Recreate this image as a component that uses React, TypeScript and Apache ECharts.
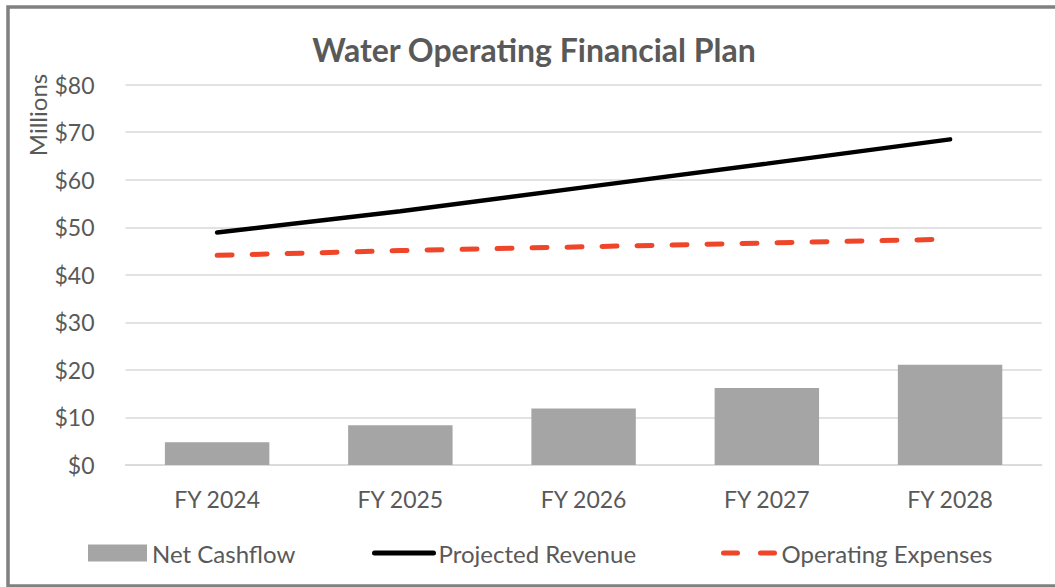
import React, { useEffect, useRef } from "react";
import * as echarts from "echarts";

const categories = ["FY 2024", "FY 2025", "FY 2026", "FY 2027", "FY 2028"];
const netCashflow = [4.8, 8.35, 11.9, 16.2, 21.1];
const projectedRevenue = [48.9, 53.4, 58.4, 63.4, 68.5];
const operatingExpenses = [44.1, 45.1, 45.9, 46.7, 47.5];
const seriesNames = ["Net Cashflow", "Projected Revenue", "Operating Expenses"];
const yMin = 0;
const yMax = 80;
const yInterval = 10;

const FONT = "Lato";
const TEXT = "#595959";

export default function App() {
  const ref = useRef<HTMLDivElement>(null);
  useEffect(() => {
    if (!ref.current) return;
    const chart = echarts.init(ref.current, null, { renderer: "svg" });
    const legendText = { color: TEXT, fontFamily: FONT, fontSize: 24 };
    chart.setOption({
      animation: false,
      backgroundColor: "#ffffff",
      title: {
        text: "Water Operating Financial Plan",
        left: 529,
        textAlign: "center",
        top: 28,
        textStyle: { color: TEXT, fontFamily: FONT, fontSize: 32, fontWeight: "bold" },
      },
      graphic: [
        {
          type: "rect",
          shape: { x: 8, y: 7, width: 1100, height: 579 },
          style: { fill: "none", stroke: "#808080", lineWidth: 3.5 },
          silent: true,
        },
        {
          type: "text",
          x: 37,
          y: 115,
          rotation: Math.PI / 2,
          style: {
            text: "Millions",
            fill: TEXT,
            font: `24px ${FONT}`,
            align: "center",
            verticalAlign: "middle",
          },
        },
      ],
      legend: [
        {
          data: [{ name: seriesNames[0], icon: "rect" }],
          left: 88,
          top: 541,
          padding: 0,
          itemWidth: 59,
          itemHeight: 17,
          textStyle: legendText,
        },
        {
          data: [{ name: seriesNames[1], itemStyle: { opacity: 0 } }],
          left: 372,
          top: 541,
          padding: 0,
          itemWidth: 59,
          itemHeight: 17,
          lineStyle: { width: 5, cap: "round" },
          textStyle: legendText,
        },
        {
          data: [{ name: seriesNames[2], itemStyle: { opacity: 0 } }],
          left: 721,
          top: 541,
          padding: 0,
          itemWidth: 53,
          itemHeight: 17,
          lineStyle: { width: 5, type: [14, 23], cap: "round" },
          textStyle: legendText,
        },
      ],
      grid: { left: 125.5, right: 13.3, top: 84.7, bottom: 122, containLabel: false },
      xAxis: {
        type: "category",
        data: categories,
        axisLine: { lineStyle: { color: "#D9D9D9", width: 1.5 } },
        axisTick: { show: false },
        axisLabel: { color: TEXT, fontFamily: FONT, fontSize: 23, margin: 22 },
      },
      yAxis: {
        type: "value",
        min: yMin,
        max: yMax,
        interval: yInterval,
        axisLine: { show: false },
        axisTick: { show: false },
        splitLine: { lineStyle: { color: "#D9D9D9", width: 1.5 } },
        axisLabel: {
          color: TEXT,
          fontFamily: FONT,
          fontSize: 23,
          margin: 31,
          formatter: (v: number) => "$" + v,
        },
      },
      series: [
        {
          name: seriesNames[0],
          type: "bar",
          data: netCashflow,
          barWidth: "57%",
          itemStyle: { color: "#A5A5A5" },
        },
        {
          name: seriesNames[1],
          type: "line",
          data: projectedRevenue,
          symbol: "none",
          lineStyle: { color: "#000000", width: 4.5, cap: "round" },
          itemStyle: { color: "#000000" },
          z: 3,
        },
        {
          name: seriesNames[2],
          type: "line",
          data: operatingExpenses,
          symbol: "none",
          lineStyle: { color: "#EF4529", width: 5, type: [15, 20], cap: "round" },
          itemStyle: { color: "#EF4529" },
          z: 3,
        },
      ],
    });
    return () => chart.dispose();
  }, []);
  return (
    <div
      ref={ref}
      style={{ position: "absolute", left: 0, top: 0, width: 1055, height: 587 }}
    />
  );
}
